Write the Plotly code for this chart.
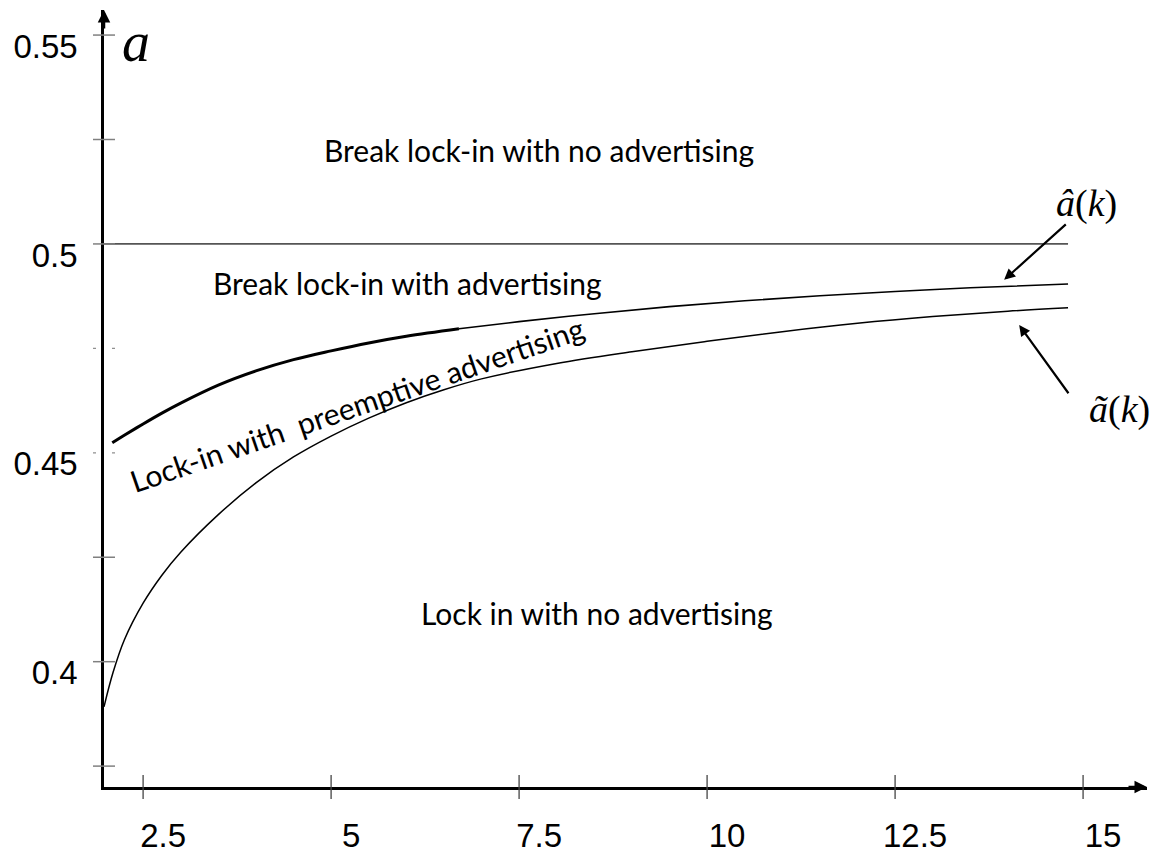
import plotly.graph_objects as go

# ---------------- data ----------------
k_hat = [2.09, 2.25, 2.5, 2.75, 3.0, 3.5, 4.0, 4.5, 5.0, 5.5, 6.0, 6.7,
         7.5, 8.5, 9.5, 10.5, 11.5, 12.5, 13.5, 14.8]
a_hat = [0.4524, 0.4542, 0.4569, 0.4595, 0.4619, 0.4662, 0.4696, 0.4723, 0.4744,
         0.4763, 0.4779, 0.4797, 0.4814, 0.4833, 0.4850, 0.4864, 0.4876, 0.4886,
         0.4895, 0.4904]
hat_thick_end = 6.7

k_tilde = [1.98, 2.1, 2.25, 2.5, 2.75, 3.0, 3.5, 4.0, 4.5, 5.0, 5.5, 6.0, 6.5, 7.0,
           8.0, 9.0, 10.0, 11.0, 12.0, 13.0, 14.0, 14.8]
a_tilde = [0.3892, 0.3974, 0.4052, 0.4140, 0.4207, 0.4262, 0.4352, 0.4428, 0.4490,
           0.4540, 0.4583, 0.4620, 0.4651, 0.4677, 0.4714, 0.4742, 0.4767, 0.4790,
           0.4810, 0.4826, 0.4839, 0.4847]

k_half = [1.98, 14.8]
a_half = [0.5, 0.5]

x_tick_vals = [2.5, 5, 7.5, 10, 12.5, 15]
x_tick_text = ["2.5", "5", "7.5", "10", "12.5", "15"]
y_tick_vals = [0.4, 0.45, 0.5, 0.55]
y_tick_text = ["0.4", "0.45", "0.5", "0.55"]
y_minor_marks = [0.375, 0.4, 0.425, 0.5, 0.525, 0.55]
y_faint_marks = [0.45, 0.475]

region_labels = ["Break lock-in with no advertising",
                 "Break lock-in with advertising",
                 "Lock-in with  preemptive advertising",
                 "Lock in with no advertising"]
region_k = [7.77, 6.01, 5.35, 8.53]
region_a = [0.5225, 0.4907, 0.4617, 0.4117]
region_angle = [0, 0, -19, 0]

x_range = [1.98, 15.85]
y_range = [0.37, 0.556]

# ---------------- figure ----------------
fig = go.Figure()

k_thick = [k for k in k_hat if k <= hat_thick_end]
a_thick = [a for k, a in zip(k_hat, a_hat) if k <= hat_thick_end]
k_thin = [k for k in k_hat if k >= hat_thick_end]
a_thin = [a for k, a in zip(k_hat, a_hat) if k >= hat_thick_end]

fig.add_trace(go.Scatter(x=k_half, y=a_half, mode="lines",
                         line=dict(color="#555555", width=1.8), hoverinfo="skip"))
fig.add_trace(go.Scatter(x=k_thick, y=a_thick, mode="lines", line_shape="spline",
                         line=dict(color="black", width=3), hoverinfo="skip"))
fig.add_trace(go.Scatter(x=k_thin, y=a_thin, mode="lines", line_shape="spline",
                         line=dict(color="black", width=1.6), hoverinfo="skip"))
fig.add_trace(go.Scatter(x=k_tilde, y=a_tilde, mode="lines", line_shape="spline",
                         line=dict(color="black", width=1.5), hoverinfo="skip"))

# tick marks crossing the axes (paper-referenced so they are not clipped)
for v in y_minor_marks:
    fig.add_shape(type="line", xref="paper", yref="y", xsizemode="pixel", xanchor=0,
                  x0=-11, x1=11, y0=v, y1=v, line=dict(color="#808080", width=1.5))
for v in y_faint_marks:
    fig.add_shape(type="line", xref="paper", yref="y", xsizemode="pixel", xanchor=0,
                  x0=-11, x1=11, y0=v, y1=v,
                  line=dict(color="#909090", width=1.2, dash="3px,16px,3px"))
for v in x_tick_vals:
    fig.add_shape(type="line", xref="x", yref="paper", ysizemode="pixel", yanchor=0,
                  y0=-12, y1=12, x0=v, x1=v, line=dict(color="#444444", width=1.3))

# axis arrowheads
fig.add_annotation(x=x_range[0], y=y_range[1], ax=0, ay=20, xref="x", yref="y",
                   text="", showarrow=True, arrowhead=2, arrowsize=1, arrowwidth=2.5,
                   arrowcolor="black")
fig.add_annotation(x=x_range[1], y=y_range[0], ax=-20, ay=0, xref="x", yref="y",
                   text="", showarrow=True, arrowhead=2, arrowsize=1, arrowwidth=2.5,
                   arrowcolor="black")

# region labels
for txt, kx, ay_, ang in zip(region_labels, region_k, region_a, region_angle):
    fig.add_annotation(x=kx, y=ay_, xref="x", yref="y", text=txt, showarrow=False,
                       textangle=ang, font=dict(family="Lato", size=30, color="black"))

# axis names
fig.add_annotation(x=2.41, y=0.5483, xref="x", yref="y", text="<i>a</i>", showarrow=False,
                   font=dict(family="Liberation Serif", size=56, color="black"))
fig.add_annotation(x=15.91, y=0.3797, xref="x", yref="y", text="<i>k</i>", showarrow=False,
                   font=dict(family="Liberation Serif", size=46, color="black"))

# curve labels and pointers
fig.add_annotation(x=15.05, y=0.5098, xref="x", yref="y", text="<i>â</i>(<i>k</i>)",
                   showarrow=False, font=dict(family="Liberation Serif", size=38, color="black"))
fig.add_annotation(x=15.49, y=0.4603, xref="x", yref="y", text="<i>ã</i>(<i>k</i>)",
                   showarrow=False, font=dict(family="Liberation Serif", size=38, color="black"))
fig.add_annotation(x=13.95, y=0.4914, ax=14.79, ay=0.505, xref="x", yref="y",
                   axref="x", ayref="y", text="", showarrow=True, arrowhead=2,
                   arrowsize=1, arrowwidth=2.2, arrowcolor="black")
fig.add_annotation(x=14.15, y=0.4806, ax=14.82, ay=0.4639, xref="x", yref="y",
                   axref="x", ayref="y", text="", showarrow=True, arrowhead=2,
                   arrowsize=1, arrowwidth=2.2, arrowcolor="black")

# the page adds an 8 px body margin, so the figure is 8 px smaller each way
fig.update_layout(
    width=1155, height=845,
    margin=dict(l=96, r=16, t=2, b=65.6),
    paper_bgcolor="white", plot_bgcolor="white",
    showlegend=False,
    xaxis=dict(range=x_range, showgrid=False, zeroline=False, showline=True,
               linecolor="black", linewidth=2.5, ticks="", automargin=False,
               tickvals=x_tick_vals, ticktext=x_tick_text,
               ticklabelstandoff=18, ticklabelshift=20,
               tickfont=dict(family="Liberation Sans", size=33, color="black")),
    yaxis=dict(range=y_range, showgrid=False, zeroline=False, showline=True,
               linecolor="black", linewidth=2.5, ticks="", automargin=False,
               tickvals=y_tick_vals, ticktext=y_tick_text,
               ticklabelstandoff=17, ticklabelshift=11,
               tickfont=dict(family="Liberation Sans", size=33, color="black")),
)

fig.write_html("out.html")
